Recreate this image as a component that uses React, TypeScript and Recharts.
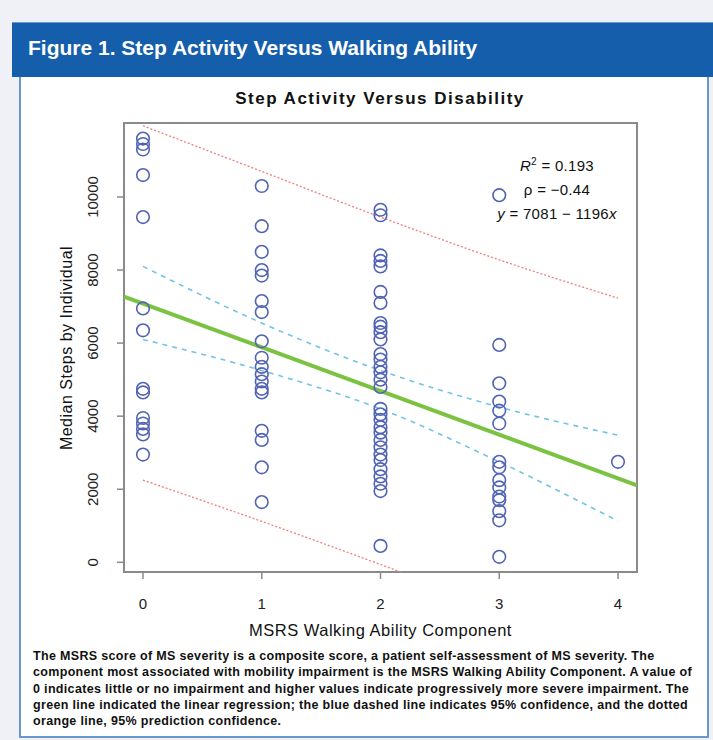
import React from "react";
import { ComposedChart, Scatter, Line, XAxis, YAxis, ReferenceArea } from "recharts";

// MSRS walking ability scores (x axis) and step ticks (y axis)
const walkingScores = [0, 1, 2, 3, 4];
const stepTicks = [0, 2000, 4000, 6000, 8000, 10000];

// median steps per individual, grouped by walking score
const stepsScore0 = [11600, 11450, 11300, 10600, 9450, 6950, 6350, 4750, 4650, 3950, 3800, 3650, 3500, 2950];
const stepsScore1 = [10300, 9200, 8500, 8000, 7850, 7150, 6850, 6050, 5600, 5350, 5150, 4950, 4750, 4650, 3600, 3350, 2600, 1650];
const stepsScore2 = [
  9650, 9500, 8400, 8250, 8100, 7400, 7100, 6550, 6450, 6300, 6100, 5700, 5550, 5350, 5200, 5000, 4800,
  4200, 4050, 3900, 3700, 3550, 3350, 3150, 2950, 2800, 2550, 2350, 2150, 1950, 450,
];
const stepsScore3 = [10050, 5950, 4900, 4400, 4150, 3800, 2750, 2600, 2250, 2050, 1800, 1700, 1400, 1150, 150];
const stepsScore4 = [2750];

// regression fit: y = 7081 - 1196x
const fitIntercept = 7081;
const fitSlope = -1196;

// 95% confidence band (dashed blue) and 95% prediction band (dotted red) at each score
const confUpper = [8100, 6550, 5250, 4250, 3480];
const confLower = [6100, 5250, 4200, 2750, 1130];
const predUpper = [11950, 10700, 9450, 8280, 7230];
const predLower = [2250, 1120, -60, -1300, -2640];

const xDomain: [number, number] = [-0.16, 4.16];
const yDomain: [number, number] = [-265, 12025];

const pointColor = "#5163b4";
const axisGray = "#8a8a8a";

const pointData = [stepsScore0, stepsScore1, stepsScore2, stepsScore3, stepsScore4].flatMap((col, i) =>
  col.map((y) => ({ x: walkingScores[i], y }))
);
const band = (vals: number[]) => vals.map((y, i) => ({ x: walkingScores[i], y }));
const fitData = xDomain.map((x) => ({ x, y: fitIntercept + fitSlope * x }));

const OpenCircle = (props: any) => {
  const { cx, cy } = props;
  if (cx == null || cy == null) return null;
  return <circle cx={cx} cy={cy} r={6.3} fill="none" stroke={pointColor} strokeWidth={1.6} />;
};

const YTick = (props: any) => {
  const { x, y, payload } = props;
  const tx = x - 22;
  return (
    <text x={tx} y={y} transform={`rotate(-90 ${tx} ${y})`} textAnchor="middle" dominantBaseline="central" fontSize={15} fill="#222">
      {payload.value}
    </text>
  );
};

const XTick = (props: any) => {
  const { x, y, payload } = props;
  return (
    <text x={x} y={y + 22} textAnchor="middle" dominantBaseline="central" fontSize={15} fill="#222">
      {payload.value}
    </text>
  );
};

const captionLines = [
  "The MSRS score of MS severity is a composite score, a patient self-assessment of MS severity. The",
  "component most associated with mobility impairment is the MSRS Walking Ability Component. A value of",
  "0 indicates little or no impairment and higher values indicate progressively more severe impairment. The",
  "green line indicated the linear regression; the blue dashed line indicates 95% confidence, and the dotted",
  "orange line, 95% prediction confidence.",
];

export default function App() {
  const sans = "'Liberation Sans', Arial, sans-serif";
  return (
    <div style={{ position: "fixed", left: 0, top: 0, width: 713, height: 740, background: "#eff1f6", fontFamily: sans, overflow: "hidden" }}>
      <div style={{ position: "absolute", left: 12, top: 22, width: 701, height: 55, background: "#155eab", borderTop: "1px solid #6c9bd0", boxSizing: "border-box" }}>
        <div style={{ position: "absolute", left: 16, top: 13, color: "#fff", fontFamily: "'Liberation Sans Narrow', 'Liberation Sans', sans-serif", fontWeight: 700, fontSize: 21, whiteSpace: "nowrap" }}>
          Figure 1. Step Activity Versus Walking Ability
        </div>
      </div>
      <div style={{ position: "absolute", left: 19, top: 77, width: 690, height: 661, background: "#fff", border: "2px solid #6b97cf", borderTop: "none", boxSizing: "border-box" }} />

      <div style={{ position: "absolute", left: 0, width: 760, top: 89, textAlign: "center", fontWeight: 700, fontSize: 17, letterSpacing: 1.5, color: "#111" }}>
        Step Activity Versus Disability
      </div>

      <div style={{ position: "absolute", left: 20, top: 77 }}>
        <ComposedChart width={688} height={580} margin={{ top: 46, right: 71, left: 64, bottom: 45 }}>
          <XAxis
            type="number"
            dataKey="x"
            domain={xDomain}
            ticks={walkingScores}
            allowDataOverflow
            axisLine={false}
            tickSize={7}
            tickLine={{ stroke: axisGray, strokeWidth: 1.5 }}
            tick={<XTick />}
            height={40}
          />
          <YAxis
            type="number"
            dataKey="y"
            domain={yDomain}
            ticks={stepTicks}
            allowDataOverflow
            axisLine={false}
            tickSize={7}
            tickLine={{ stroke: axisGray, strokeWidth: 1.5 }}
            tick={<YTick />}
            width={40}
          />
          <ReferenceArea x1={xDomain[0]} x2={xDomain[1]} y1={yDomain[0]} y2={yDomain[1]} fill="none" stroke={axisGray} strokeWidth={2} />
          <Line data={band(predUpper)} dataKey="y" type="monotone" stroke="#ef7c7c" strokeWidth={1.3} strokeDasharray="2 2" dot={false} isAnimationActive={false} />
          <Line data={band(predLower)} dataKey="y" type="monotone" stroke="#ef7c7c" strokeWidth={1.3} strokeDasharray="2 2" dot={false} isAnimationActive={false} />
          <Line data={band(confUpper)} dataKey="y" type="monotone" stroke="#72c3e6" strokeWidth={1.6} strokeDasharray="5 5" dot={false} isAnimationActive={false} />
          <Line data={band(confLower)} dataKey="y" type="monotone" stroke="#72c3e6" strokeWidth={1.6} strokeDasharray="5 5" dot={false} isAnimationActive={false} />
          <Line data={fitData} dataKey="y" type="linear" stroke="#7cc242" strokeWidth={4} dot={false} isAnimationActive={false} />
          <Scatter data={pointData} dataKey="y" shape={<OpenCircle />} isAnimationActive={false} />
        </ComposedChart>
      </div>

      <div style={{ position: "absolute", left: 457, width: 200, top: 150, textAlign: "center", fontSize: 15, letterSpacing: 0.3, lineHeight: "24px", color: "#111" }}>
        <div>
          <i>R</i>
          <sup style={{ fontSize: 10 }}>2</sup> = 0.193
        </div>
        <div>ρ = −0.44</div>
        <div>
          <i>y</i> = 7081 − 1196<i>x</i>
        </div>
      </div>

      <div style={{ position: "absolute", left: 0, top: 348, width: 144, height: 0, fontSize: 16, letterSpacing: 0.5, color: "#111" }}>
        <div style={{ position: "absolute", left: 67, top: 0, transform: "translate(-50%, -50%) rotate(-90deg)", whiteSpace: "nowrap" }}>
          Median Steps by Individual
        </div>
      </div>

      <div style={{ position: "absolute", left: 124, width: 513, top: 621, textAlign: "center", fontSize: 16.5, letterSpacing: 0.5, color: "#111" }}>
        MSRS Walking Ability Component
      </div>

      <div style={{ position: "absolute", left: 33, top: 648, fontSize: 12.5, letterSpacing: 0.33, fontWeight: 700, lineHeight: "16.3px", color: "#111" }}>
        {captionLines.map((line) => (
          <div key={line} style={{ whiteSpace: "nowrap" }}>
            {line}
          </div>
        ))}
      </div>
    </div>
  );
}
